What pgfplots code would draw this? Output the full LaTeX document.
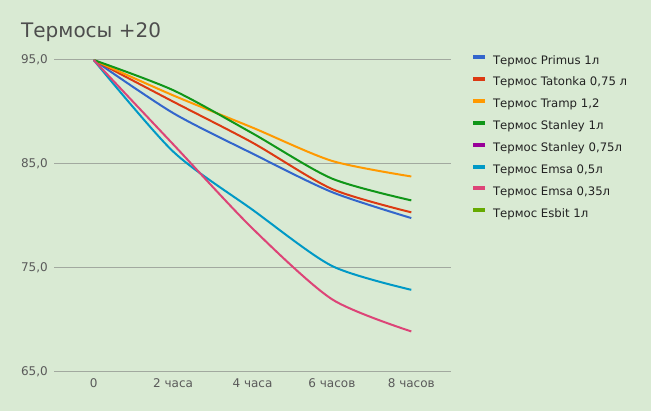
\documentclass[border=0pt]{standalone}
\usepackage{fontspec}
\setmainfont{DejaVu Sans}
\usepackage{pgfplots}
\pgfplotsset{compat=1.18}
\definecolor{bg}{HTML}{D9EAD3}
\definecolor{gridc}{HTML}{A2A99F}
\definecolor{tickc}{HTML}{5A5A5A}
\definecolor{titlec}{HTML}{4D4D4D}
\definecolor{legc}{HTML}{222222}
\definecolor{c1}{HTML}{3366CC}
\definecolor{c2}{HTML}{DC3912}
\definecolor{c3}{HTML}{FF9900}
\definecolor{c4}{HTML}{109618}
\definecolor{c5}{HTML}{990099}
\definecolor{c6}{HTML}{0099C6}
\definecolor{c7}{HTML}{DD4477}
\definecolor{c8}{HTML}{66AA00}
\begin{document}
\begin{tikzpicture}
\fill[bg] (0,0) rectangle (651pt,411pt);
\useasboundingbox (0,0) rectangle (651pt,411pt);
\begin{axis}[
  at={(54pt,39pt)}, anchor=south west,
  scale only axis, width=397pt, height=312pt,
  xmin=-0.5, xmax=4.5, ymin=65, ymax=95,
  xtick={0,1,2,3,4},
  xticklabels={0, 2 часа, 4 часа, 6 часов, 8 часов},
  ytick={65,75,85,95},
  ymajorgrids, grid style={gridc, line width=1pt},
  axis line style={draw=none},
  major tick length=0pt,
  tick label style={font=\fontsize{12}{14}\selectfont, text=tickc},
  yticklabel style={/pgf/number format/.cd, fixed, fixed zerofill, precision=1, use comma, assume math mode=true,
     /tikz/.cd, inner sep=0pt, anchor=east, xshift=-6pt},
  xticklabel style={inner sep=0pt, anchor=base, yshift=-16pt},
  legend style={at={(axis description cs:1.0504,1.016)}, anchor=north west,
     draw=none, fill=none, inner sep=0pt, outer sep=0pt,
     row sep=9.9pt, column sep=6pt,
     font=\fontsize{11.7}{14}\selectfont, text=legc,
     nodes={inner sep=0pt, text height=9pt, text depth=3pt}},
  legend cell align=left,
  legend image code/.code={\draw[line width=4pt, line cap=butt] (0pt,4pt) -- (12pt,4pt);},
  every axis plot/.append style={line width=2pt, smooth, tension=0.45},
]
\addplot[c1] coordinates {(0,95) (1,89.9) (2,86.0) (3,82.3) (4,79.8)};
\addlegendentry{Термос Primus 1л}
\addplot[c2] coordinates {(0,95) (1,91.0) (2,87.05) (3,82.6) (4,80.35)};
\addlegendentry{Термос Tatonka 0,75 л}
\addplot[c3] coordinates {(0,95) (1,91.6) (2,88.5) (3,85.3) (4,83.8)};
\addlegendentry{Термос Tramp 1,2}
\addplot[c4] coordinates {(0,95) (1,92.1) (2,87.95) (3,83.6) (4,81.5)};
\addlegendentry{Термос Stanley 1л}
\addlegendimage{c5}
\addlegendentry{Термос Stanley 0,75л}
\addplot[c6] coordinates {(0,95) (1,86.2) (2,80.6) (3,75.2) (4,72.9)};
\addlegendentry{Термос Emsa 0,5л}
\addplot[c7] coordinates {(0,95) (1,86.9) (2,78.8) (3,72.0) (4,68.9)};
\addlegendentry{Термос Emsa 0,35л}
\addlegendimage{c8}
\addlegendentry{Термос Esbit 1л}
\end{axis}
\node[anchor=base west, inner sep=0pt, font=\fontsize{20}{24}\selectfont, text=titlec] at (21pt,373.5pt) {Термосы +20};
\end{tikzpicture}
\end{document}
